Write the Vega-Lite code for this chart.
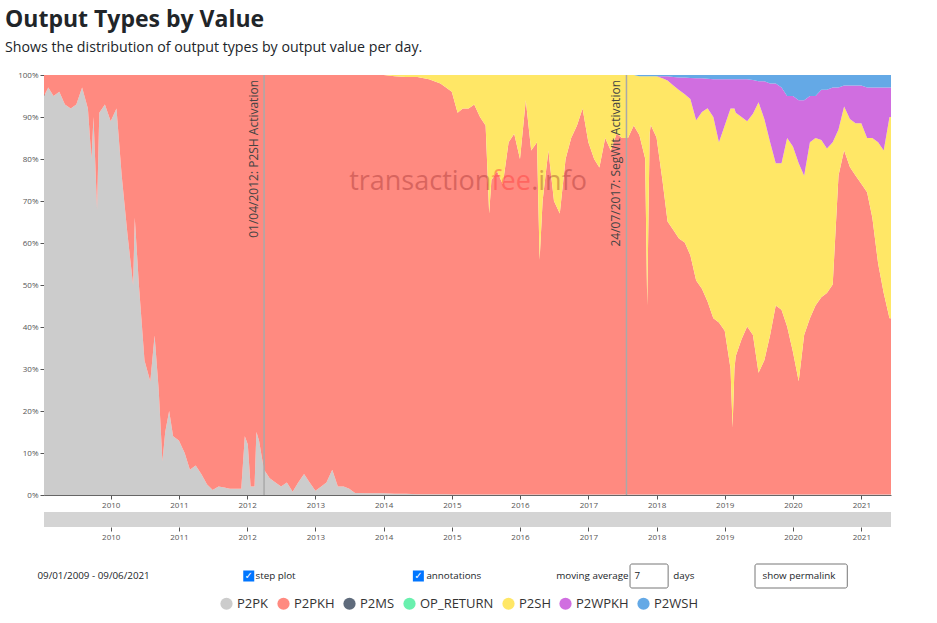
{
  "$schema": "https://vega.github.io/schema/vega-lite/v6.json",
  "background": "white",
  "padding": {"left": 5, "top": 8, "right": 5, "bottom": 4},
  "title": {
    "text": "Output Types by Value",
    "subtitle": "Shows the distribution of output types by output value per day.",
    "anchor": "start",
    "font": "Open Sans",
    "fontSize": 23,
    "fontWeight": "bold",
    "color": "#212529",
    "subtitleFont": "Open Sans",
    "subtitleFontSize": 14.2,
    "subtitleColor": "#212529",
    "subtitlePadding": 9,
    "offset": 16
  },
  "config": {
    "view": {"stroke": null},
    "font": "Open Sans",
    "axis": {
      "labelFont": "Open Sans",
      "labelFontSize": 8,
      "labelColor": "#555",
      "tickColor": "#555",
      "domainColor": "#666",
      "tickSize": 4,
      "labelPadding": 2,
      "grid": false,
      "title": null
    },
    "legend": {
      "orient": "none",
      "legendX": 176,
      "legendY": 522,
      "direction": "horizontal",
      "title": null,
      "symbolType": "circle",
      "symbolSize": 150,
      "symbolStrokeWidth": 0,
      "symbolOpacity": 1,
      "labelFont": "Open Sans",
      "labelFontSize": 13,
      "labelColor": "#333",
      "columnPadding": 8,
      "labelOffset": 4
    }
  },
  "datasets": {
    "types": [
      {"type": "P2PK", "rank": 1},
      {"type": "P2PKH", "rank": 2},
      {"type": "P2MS", "rank": 3},
      {"type": "OP_RETURN", "rank": 4},
      {"type": "P2SH", "rank": 5},
      {"type": "P2WPKH", "rank": 6},
      {"type": "P2WSH", "rank": 7}
    ],
    "notes": [
      {"d": "2012-04-01", "label": "01/04/2012: P2SH Activation"},
      {"d": "2017-07-24", "label": "24/07/2017: SegWit Activation"}
    ],
    "series": [
      {"d": "2009-01-09", "P2PK": 95, "P2PKH": 5, "P2SH": 0, "P2WPKH": 0, "P2WSH": 0},
      {"d": "2009-02-01", "P2PK": 97, "P2PKH": 3, "P2SH": 0, "P2WPKH": 0, "P2WSH": 0},
      {"d": "2009-03-01", "P2PK": 95, "P2PKH": 5, "P2SH": 0, "P2WPKH": 0, "P2WSH": 0},
      {"d": "2009-04-01", "P2PK": 96, "P2PKH": 4, "P2SH": 0, "P2WPKH": 0, "P2WSH": 0},
      {"d": "2009-05-01", "P2PK": 93, "P2PKH": 7, "P2SH": 0, "P2WPKH": 0, "P2WSH": 0},
      {"d": "2009-06-01", "P2PK": 92, "P2PKH": 8, "P2SH": 0, "P2WPKH": 0, "P2WSH": 0},
      {"d": "2009-07-01", "P2PK": 93, "P2PKH": 7, "P2SH": 0, "P2WPKH": 0, "P2WSH": 0},
      {"d": "2009-08-01", "P2PK": 97, "P2PKH": 3, "P2SH": 0, "P2WPKH": 0, "P2WSH": 0},
      {"d": "2009-09-01", "P2PK": 92, "P2PKH": 8, "P2SH": 0, "P2WPKH": 0, "P2WSH": 0},
      {"d": "2009-09-20", "P2PK": 80, "P2PKH": 20, "P2SH": 0, "P2WPKH": 0, "P2WSH": 0},
      {"d": "2009-10-01", "P2PK": 90, "P2PKH": 10, "P2SH": 0, "P2WPKH": 0, "P2WSH": 0},
      {"d": "2009-10-20", "P2PK": 68, "P2PKH": 32, "P2SH": 0, "P2WPKH": 0, "P2WSH": 0},
      {"d": "2009-11-01", "P2PK": 91, "P2PKH": 9, "P2SH": 0, "P2WPKH": 0, "P2WSH": 0},
      {"d": "2009-12-01", "P2PK": 93, "P2PKH": 7, "P2SH": 0, "P2WPKH": 0, "P2WSH": 0},
      {"d": "2010-01-01", "P2PK": 89, "P2PKH": 11, "P2SH": 0, "P2WPKH": 0, "P2WSH": 0},
      {"d": "2010-02-01", "P2PK": 92, "P2PKH": 8, "P2SH": 0, "P2WPKH": 0, "P2WSH": 0},
      {"d": "2010-03-01", "P2PK": 76, "P2PKH": 24, "P2SH": 0, "P2WPKH": 0, "P2WSH": 0},
      {"d": "2010-04-01", "P2PK": 62, "P2PKH": 38, "P2SH": 0, "P2WPKH": 0, "P2WSH": 0},
      {"d": "2010-05-01", "P2PK": 50, "P2PKH": 50, "P2SH": 0, "P2WPKH": 0, "P2WSH": 0},
      {"d": "2010-05-10", "P2PK": 66, "P2PKH": 34, "P2SH": 0, "P2WPKH": 0, "P2WSH": 0},
      {"d": "2010-06-01", "P2PK": 50, "P2PKH": 50, "P2SH": 0, "P2WPKH": 0, "P2WSH": 0},
      {"d": "2010-07-01", "P2PK": 32, "P2PKH": 68, "P2SH": 0, "P2WPKH": 0, "P2WSH": 0},
      {"d": "2010-08-01", "P2PK": 27, "P2PKH": 73, "P2SH": 0, "P2WPKH": 0, "P2WSH": 0},
      {"d": "2010-08-24", "P2PK": 38, "P2PKH": 62, "P2SH": 0, "P2WPKH": 0, "P2WSH": 0},
      {"d": "2010-09-15", "P2PK": 25, "P2PKH": 75, "P2SH": 0, "P2WPKH": 0, "P2WSH": 0},
      {"d": "2010-10-05", "P2PK": 8, "P2PKH": 92, "P2SH": 0, "P2WPKH": 0, "P2WSH": 0},
      {"d": "2010-10-20", "P2PK": 15, "P2PKH": 85, "P2SH": 0, "P2WPKH": 0, "P2WSH": 0},
      {"d": "2010-11-10", "P2PK": 20, "P2PKH": 80, "P2SH": 0, "P2WPKH": 0, "P2WSH": 0},
      {"d": "2010-12-01", "P2PK": 14, "P2PKH": 86, "P2SH": 0, "P2WPKH": 0, "P2WSH": 0},
      {"d": "2011-01-01", "P2PK": 13, "P2PKH": 87, "P2SH": 0, "P2WPKH": 0, "P2WSH": 0},
      {"d": "2011-02-01", "P2PK": 10, "P2PKH": 90, "P2SH": 0, "P2WPKH": 0, "P2WSH": 0},
      {"d": "2011-03-01", "P2PK": 6, "P2PKH": 94, "P2SH": 0, "P2WPKH": 0, "P2WSH": 0},
      {"d": "2011-04-01", "P2PK": 7, "P2PKH": 93, "P2SH": 0, "P2WPKH": 0, "P2WSH": 0},
      {"d": "2011-05-01", "P2PK": 5, "P2PKH": 95, "P2SH": 0, "P2WPKH": 0, "P2WSH": 0},
      {"d": "2011-06-01", "P2PK": 2.5, "P2PKH": 97.5, "P2SH": 0, "P2WPKH": 0, "P2WSH": 0},
      {"d": "2011-07-01", "P2PK": 1.2, "P2PKH": 98.8, "P2SH": 0, "P2WPKH": 0, "P2WSH": 0},
      {"d": "2011-08-01", "P2PK": 2, "P2PKH": 98, "P2SH": 0, "P2WPKH": 0, "P2WSH": 0},
      {"d": "2011-09-01", "P2PK": 1.8, "P2PKH": 98.2, "P2SH": 0, "P2WPKH": 0, "P2WSH": 0},
      {"d": "2011-10-01", "P2PK": 1.5, "P2PKH": 98.5, "P2SH": 0, "P2WPKH": 0, "P2WSH": 0},
      {"d": "2011-11-01", "P2PK": 1.5, "P2PKH": 98.5, "P2SH": 0, "P2WPKH": 0, "P2WSH": 0},
      {"d": "2011-12-01", "P2PK": 1.5, "P2PKH": 98.5, "P2SH": 0, "P2WPKH": 0, "P2WSH": 0},
      {"d": "2011-12-20", "P2PK": 14, "P2PKH": 86, "P2SH": 0, "P2WPKH": 0, "P2WSH": 0},
      {"d": "2012-01-05", "P2PK": 12, "P2PKH": 88, "P2SH": 0, "P2WPKH": 0, "P2WSH": 0},
      {"d": "2012-01-20", "P2PK": 2, "P2PKH": 98, "P2SH": 0, "P2WPKH": 0, "P2WSH": 0},
      {"d": "2012-02-10", "P2PK": 2, "P2PKH": 98, "P2SH": 0, "P2WPKH": 0, "P2WSH": 0},
      {"d": "2012-02-20", "P2PK": 15, "P2PKH": 85, "P2SH": 0, "P2WPKH": 0, "P2WSH": 0},
      {"d": "2012-03-05", "P2PK": 13, "P2PKH": 87, "P2SH": 0, "P2WPKH": 0, "P2WSH": 0},
      {"d": "2012-03-20", "P2PK": 9, "P2PKH": 91, "P2SH": 0, "P2WPKH": 0, "P2WSH": 0},
      {"d": "2012-04-01", "P2PK": 6, "P2PKH": 94, "P2SH": 0, "P2WPKH": 0, "P2WSH": 0},
      {"d": "2012-05-01", "P2PK": 4, "P2PKH": 96, "P2SH": 0, "P2WPKH": 0, "P2WSH": 0},
      {"d": "2012-06-01", "P2PK": 3, "P2PKH": 97, "P2SH": 0, "P2WPKH": 0, "P2WSH": 0},
      {"d": "2012-07-01", "P2PK": 2, "P2PKH": 98, "P2SH": 0, "P2WPKH": 0, "P2WSH": 0},
      {"d": "2012-08-01", "P2PK": 3, "P2PKH": 97, "P2SH": 0, "P2WPKH": 0, "P2WSH": 0},
      {"d": "2012-09-01", "P2PK": 0.8, "P2PKH": 99.2, "P2SH": 0, "P2WPKH": 0, "P2WSH": 0},
      {"d": "2012-10-01", "P2PK": 3, "P2PKH": 97, "P2SH": 0, "P2WPKH": 0, "P2WSH": 0},
      {"d": "2012-11-01", "P2PK": 5, "P2PKH": 95, "P2SH": 0, "P2WPKH": 0, "P2WSH": 0},
      {"d": "2012-12-01", "P2PK": 3, "P2PKH": 97, "P2SH": 0, "P2WPKH": 0, "P2WSH": 0},
      {"d": "2013-01-01", "P2PK": 1, "P2PKH": 99, "P2SH": 0, "P2WPKH": 0, "P2WSH": 0},
      {"d": "2013-02-01", "P2PK": 2, "P2PKH": 98, "P2SH": 0, "P2WPKH": 0, "P2WSH": 0},
      {"d": "2013-03-01", "P2PK": 3, "P2PKH": 97, "P2SH": 0, "P2WPKH": 0, "P2WSH": 0},
      {"d": "2013-04-01", "P2PK": 6, "P2PKH": 94, "P2SH": 0, "P2WPKH": 0, "P2WSH": 0},
      {"d": "2013-05-01", "P2PK": 2, "P2PKH": 98, "P2SH": 0, "P2WPKH": 0, "P2WSH": 0},
      {"d": "2013-06-01", "P2PK": 2, "P2PKH": 98, "P2SH": 0, "P2WPKH": 0, "P2WSH": 0},
      {"d": "2013-07-01", "P2PK": 1.5, "P2PKH": 98.5, "P2SH": 0, "P2WPKH": 0, "P2WSH": 0},
      {"d": "2013-08-01", "P2PK": 0.5, "P2PKH": 99.5, "P2SH": 0, "P2WPKH": 0, "P2WSH": 0},
      {"d": "2013-10-01", "P2PK": 0.4, "P2PKH": 99.6, "P2SH": 0, "P2WPKH": 0, "P2WSH": 0},
      {"d": "2014-01-01", "P2PK": 0.4, "P2PKH": 99.6, "P2SH": 0, "P2WPKH": 0, "P2WSH": 0},
      {"d": "2014-03-01", "P2PK": 0.3, "P2PKH": 99.4, "P2SH": 0.3, "P2WPKH": 0, "P2WSH": 0},
      {"d": "2014-05-01", "P2PK": 0.3, "P2PKH": 99.2, "P2SH": 0.5, "P2WPKH": 0, "P2WSH": 0},
      {"d": "2014-07-01", "P2PK": 0.2, "P2PKH": 99.3, "P2SH": 0.5, "P2WPKH": 0, "P2WSH": 0},
      {"d": "2014-09-01", "P2PK": 0.2, "P2PKH": 98.8, "P2SH": 1, "P2WPKH": 0, "P2WSH": 0},
      {"d": "2014-11-01", "P2PK": 0.2, "P2PKH": 97.8, "P2SH": 2, "P2WPKH": 0, "P2WSH": 0},
      {"d": "2014-12-01", "P2PK": 0.2, "P2PKH": 96.8, "P2SH": 3, "P2WPKH": 0, "P2WSH": 0},
      {"d": "2015-01-01", "P2PK": 0.1, "P2PKH": 95.9, "P2SH": 4, "P2WPKH": 0, "P2WSH": 0},
      {"d": "2015-02-01", "P2PK": 0.1, "P2PKH": 90.9, "P2SH": 9, "P2WPKH": 0, "P2WSH": 0},
      {"d": "2015-03-01", "P2PK": 0.1, "P2PKH": 91.9, "P2SH": 8, "P2WPKH": 0, "P2WSH": 0},
      {"d": "2015-04-01", "P2PK": 0.1, "P2PKH": 91.9, "P2SH": 8, "P2WPKH": 0, "P2WSH": 0},
      {"d": "2015-05-01", "P2PK": 0.1, "P2PKH": 92.9, "P2SH": 7, "P2WPKH": 0, "P2WSH": 0},
      {"d": "2015-06-01", "P2PK": 0.1, "P2PKH": 89.9, "P2SH": 10, "P2WPKH": 0, "P2WSH": 0},
      {"d": "2015-07-01", "P2PK": 0.1, "P2PKH": 87.9, "P2SH": 12, "P2WPKH": 0, "P2WSH": 0},
      {"d": "2015-07-20", "P2PK": 0.1, "P2PKH": 66.9, "P2SH": 33, "P2WPKH": 0, "P2WSH": 0},
      {"d": "2015-08-01", "P2PK": 0.1, "P2PKH": 74.9, "P2SH": 25, "P2WPKH": 0, "P2WSH": 0},
      {"d": "2015-09-01", "P2PK": 0.1, "P2PKH": 76.9, "P2SH": 23, "P2WPKH": 0, "P2WSH": 0},
      {"d": "2015-10-01", "P2PK": 0.1, "P2PKH": 73.9, "P2SH": 26, "P2WPKH": 0, "P2WSH": 0},
      {"d": "2015-11-01", "P2PK": 0.1, "P2PKH": 83.9, "P2SH": 16, "P2WPKH": 0, "P2WSH": 0},
      {"d": "2015-12-01", "P2PK": 0.1, "P2PKH": 85.9, "P2SH": 14, "P2WPKH": 0, "P2WSH": 0},
      {"d": "2016-01-01", "P2PK": 0.1, "P2PKH": 79.9, "P2SH": 20, "P2WPKH": 0, "P2WSH": 0},
      {"d": "2016-02-01", "P2PK": 0.1, "P2PKH": 93.9, "P2SH": 6, "P2WPKH": 0, "P2WSH": 0},
      {"d": "2016-03-01", "P2PK": 0.1, "P2PKH": 81.9, "P2SH": 18, "P2WPKH": 0, "P2WSH": 0},
      {"d": "2016-04-01", "P2PK": 0.1, "P2PKH": 83.9, "P2SH": 16, "P2WPKH": 0, "P2WSH": 0},
      {"d": "2016-04-15", "P2PK": 0.1, "P2PKH": 55.9, "P2SH": 44, "P2WPKH": 0, "P2WSH": 0},
      {"d": "2016-05-01", "P2PK": 0.1, "P2PKH": 69.9, "P2SH": 30, "P2WPKH": 0, "P2WSH": 0},
      {"d": "2016-06-01", "P2PK": 0.1, "P2PKH": 81.9, "P2SH": 18, "P2WPKH": 0, "P2WSH": 0},
      {"d": "2016-07-01", "P2PK": 0.1, "P2PKH": 69.9, "P2SH": 30, "P2WPKH": 0, "P2WSH": 0},
      {"d": "2016-08-01", "P2PK": 0.1, "P2PKH": 66.9, "P2SH": 33, "P2WPKH": 0, "P2WSH": 0},
      {"d": "2016-09-01", "P2PK": 0.1, "P2PKH": 79.9, "P2SH": 20, "P2WPKH": 0, "P2WSH": 0},
      {"d": "2016-10-01", "P2PK": 0.1, "P2PKH": 84.9, "P2SH": 15, "P2WPKH": 0, "P2WSH": 0},
      {"d": "2016-11-01", "P2PK": 0.1, "P2PKH": 87.9, "P2SH": 12, "P2WPKH": 0, "P2WSH": 0},
      {"d": "2016-12-01", "P2PK": 0.1, "P2PKH": 91.9, "P2SH": 8, "P2WPKH": 0, "P2WSH": 0},
      {"d": "2017-01-01", "P2PK": 0.1, "P2PKH": 83.9, "P2SH": 16, "P2WPKH": 0, "P2WSH": 0},
      {"d": "2017-02-01", "P2PK": 0.1, "P2PKH": 79.9, "P2SH": 20, "P2WPKH": 0, "P2WSH": 0},
      {"d": "2017-03-01", "P2PK": 0.1, "P2PKH": 77.9, "P2SH": 22, "P2WPKH": 0, "P2WSH": 0},
      {"d": "2017-04-01", "P2PK": 0.1, "P2PKH": 84.9, "P2SH": 15, "P2WPKH": 0, "P2WSH": 0},
      {"d": "2017-05-01", "P2PK": 0.1, "P2PKH": 81.9, "P2SH": 18, "P2WPKH": 0, "P2WSH": 0},
      {"d": "2017-06-01", "P2PK": 0.1, "P2PKH": 85.9, "P2SH": 14, "P2WPKH": 0, "P2WSH": 0},
      {"d": "2017-07-01", "P2PK": 0.1, "P2PKH": 84.9, "P2SH": 15, "P2WPKH": 0, "P2WSH": 0},
      {"d": "2017-08-01", "P2PK": 0.1, "P2PKH": 84.9, "P2SH": 15, "P2WPKH": 0, "P2WSH": 0},
      {"d": "2017-09-01", "P2PK": 0.1, "P2PKH": 87.9, "P2SH": 12, "P2WPKH": 0, "P2WSH": 0},
      {"d": "2017-10-01", "P2PK": 0.1, "P2PKH": 85.6, "P2SH": 14, "P2WPKH": 0, "P2WSH": 0.3},
      {"d": "2017-11-01", "P2PK": 0.1, "P2PKH": 80, "P2SH": 19.6, "P2WPKH": 0, "P2WSH": 0.3},
      {"d": "2017-11-12", "P2PK": 0.1, "P2PKH": 45, "P2SH": 54.6, "P2WPKH": 0, "P2WSH": 0.3},
      {"d": "2017-11-25", "P2PK": 0.1, "P2PKH": 86, "P2SH": 13.6, "P2WPKH": 0, "P2WSH": 0.3},
      {"d": "2017-12-01", "P2PK": 0.1, "P2PKH": 88, "P2SH": 11.6, "P2WPKH": 0, "P2WSH": 0.3},
      {"d": "2018-01-01", "P2PK": 0.1, "P2PKH": 85, "P2SH": 14.6, "P2WPKH": 0, "P2WSH": 0.3},
      {"d": "2018-02-01", "P2PK": 0.1, "P2PKH": 75, "P2SH": 24.1, "P2WPKH": 0.5, "P2WSH": 0.3},
      {"d": "2018-03-01", "P2PK": 0.1, "P2PKH": 65, "P2SH": 33.6, "P2WPKH": 1, "P2WSH": 0.3},
      {"d": "2018-04-01", "P2PK": 0.1, "P2PKH": 63, "P2SH": 34.4, "P2WPKH": 2, "P2WSH": 0.5},
      {"d": "2018-05-01", "P2PK": 0.1, "P2PKH": 61, "P2SH": 35.3, "P2WPKH": 3, "P2WSH": 0.6},
      {"d": "2018-06-01", "P2PK": 0.1, "P2PKH": 60, "P2SH": 35.3, "P2WPKH": 4, "P2WSH": 0.6},
      {"d": "2018-07-01", "P2PK": 0.1, "P2PKH": 57, "P2SH": 37.2, "P2WPKH": 5, "P2WSH": 0.7},
      {"d": "2018-08-01", "P2PK": 0.1, "P2PKH": 51, "P2SH": 38.1, "P2WPKH": 10, "P2WSH": 0.8},
      {"d": "2018-09-01", "P2PK": 0.1, "P2PKH": 49, "P2SH": 42.1, "P2WPKH": 8, "P2WSH": 0.8},
      {"d": "2018-10-01", "P2PK": 0.1, "P2PKH": 46, "P2SH": 46, "P2WPKH": 7, "P2WSH": 0.9},
      {"d": "2018-11-01", "P2PK": 0.1, "P2PKH": 42, "P2SH": 47.9, "P2WPKH": 9, "P2WSH": 1},
      {"d": "2018-12-01", "P2PK": 0.1, "P2PKH": 41, "P2SH": 42.9, "P2WPKH": 15, "P2WSH": 1},
      {"d": "2019-01-01", "P2PK": 0.1, "P2PKH": 39, "P2SH": 48.9, "P2WPKH": 11, "P2WSH": 1},
      {"d": "2019-02-01", "P2PK": 0.1, "P2PKH": 30, "P2SH": 61.9, "P2WPKH": 7, "P2WSH": 1},
      {"d": "2019-02-12", "P2PK": 0.1, "P2PKH": 16, "P2SH": 75.9, "P2WPKH": 7, "P2WSH": 1},
      {"d": "2019-02-22", "P2PK": 0.1, "P2PKH": 30, "P2SH": 61.9, "P2WPKH": 7, "P2WSH": 1},
      {"d": "2019-03-01", "P2PK": 0.1, "P2PKH": 33, "P2SH": 57.9, "P2WPKH": 8, "P2WSH": 1},
      {"d": "2019-04-01", "P2PK": 0.1, "P2PKH": 37, "P2SH": 52.9, "P2WPKH": 9, "P2WSH": 1},
      {"d": "2019-05-01", "P2PK": 0.1, "P2PKH": 40, "P2SH": 48.9, "P2WPKH": 10, "P2WSH": 1},
      {"d": "2019-06-01", "P2PK": 0.1, "P2PKH": 38, "P2SH": 52.7, "P2WPKH": 8, "P2WSH": 1.2},
      {"d": "2019-07-01", "P2PK": 0.1, "P2PKH": 29, "P2SH": 64.4, "P2WPKH": 5, "P2WSH": 1.5},
      {"d": "2019-08-01", "P2PK": 0.1, "P2PKH": 32, "P2SH": 57.4, "P2WPKH": 9, "P2WSH": 1.5},
      {"d": "2019-09-01", "P2PK": 0.1, "P2PKH": 38, "P2SH": 45.9, "P2WPKH": 14, "P2WSH": 2},
      {"d": "2019-10-01", "P2PK": 0.1, "P2PKH": 45, "P2SH": 33.9, "P2WPKH": 19, "P2WSH": 2},
      {"d": "2019-11-01", "P2PK": 0.1, "P2PKH": 44, "P2SH": 34.9, "P2WPKH": 18, "P2WSH": 3},
      {"d": "2019-12-01", "P2PK": 0.1, "P2PKH": 40, "P2SH": 44.9, "P2WPKH": 10, "P2WSH": 5},
      {"d": "2020-01-01", "P2PK": 0.1, "P2PKH": 34, "P2SH": 48.9, "P2WPKH": 12, "P2WSH": 5},
      {"d": "2020-02-01", "P2PK": 0.1, "P2PKH": 27, "P2SH": 51.9, "P2WPKH": 15, "P2WSH": 6},
      {"d": "2020-03-01", "P2PK": 0.1, "P2PKH": 38, "P2SH": 37.9, "P2WPKH": 18, "P2WSH": 6},
      {"d": "2020-04-01", "P2PK": 0.1, "P2PKH": 42, "P2SH": 41.9, "P2WPKH": 11, "P2WSH": 5},
      {"d": "2020-05-01", "P2PK": 0.1, "P2PKH": 45, "P2SH": 39.9, "P2WPKH": 10, "P2WSH": 5},
      {"d": "2020-06-01", "P2PK": 0.1, "P2PKH": 47, "P2SH": 37.4, "P2WPKH": 12, "P2WSH": 3.5},
      {"d": "2020-07-01", "P2PK": 0.1, "P2PKH": 48, "P2SH": 34.4, "P2WPKH": 14, "P2WSH": 3.5},
      {"d": "2020-08-01", "P2PK": 0.1, "P2PKH": 50, "P2SH": 33.9, "P2WPKH": 13, "P2WSH": 3},
      {"d": "2020-09-01", "P2PK": 0.1, "P2PKH": 76, "P2SH": 10.9, "P2WPKH": 10, "P2WSH": 3},
      {"d": "2020-10-01", "P2PK": 0.1, "P2PKH": 82, "P2SH": 10.4, "P2WPKH": 5, "P2WSH": 2.5},
      {"d": "2020-11-01", "P2PK": 0.1, "P2PKH": 78, "P2SH": 11.4, "P2WPKH": 8, "P2WSH": 2.5},
      {"d": "2020-12-01", "P2PK": 0.1, "P2PKH": 76, "P2SH": 12.4, "P2WPKH": 9, "P2WSH": 2.5},
      {"d": "2021-01-01", "P2PK": 0.1, "P2PKH": 74, "P2SH": 14.4, "P2WPKH": 9, "P2WSH": 2.5},
      {"d": "2021-02-01", "P2PK": 0.1, "P2PKH": 72, "P2SH": 12.9, "P2WPKH": 12, "P2WSH": 3},
      {"d": "2021-03-01", "P2PK": 0.1, "P2PKH": 66, "P2SH": 18.9, "P2WPKH": 12, "P2WSH": 3},
      {"d": "2021-04-01", "P2PK": 0.1, "P2PKH": 55, "P2SH": 28.9, "P2WPKH": 13, "P2WSH": 3},
      {"d": "2021-05-01", "P2PK": 0.1, "P2PKH": 48, "P2SH": 33.9, "P2WPKH": 15, "P2WSH": 3},
      {"d": "2021-06-01", "P2PK": 0.1, "P2PKH": 42, "P2SH": 47.9, "P2WPKH": 7, "P2WSH": 3},
      {"d": "2021-06-09", "P2PK": 0.1, "P2PKH": 42, "P2SH": 47.9, "P2WPKH": 7, "P2WSH": 3}
    ],
    "controls": [
      {"d": "2008-12-05", "label": "09/01/2009 - 09/06/2021"},
      {"d": "2012-02-15", "label": "step plot"},
      {"d": "2014-08-18", "label": "annotations"},
      {"d": "2016-07-13", "label": "moving average"},
      {"d": "2017-09-05", "label": "7"},
      {"d": "2018-04-01", "label": "days"},
      {"d": "2019-07-22", "label": "show permalink"}
    ],
    "checks": [
      {"d": "2012-01-10"},
      {"d": "2014-07-06"}
    ],
    "boxes": [
      {"a": "2017-08-12", "b": "2018-03-04"},
      {"a": "2019-06-12", "b": "2020-10-18"}
    ]
  },
  "spacing": 22,
  "vconcat": [
    {
      "spacing": 3,
      "vconcat": [
        {
          "width": 847,
          "height": 420,
          "layer": [
            {
              "data": {"name": "series"},
              "transform": [
                {"fold": ["P2PK", "P2PKH", "P2SH", "P2WPKH", "P2WSH"], "as": ["type", "share"]},
                {"lookup": "type", "from": {"data": {"name": "types"}, "key": "type", "fields": ["rank"]}}
              ],
              "mark": {"type": "area", "interpolate": "linear"},
              "encoding": {
                "x": {
                  "field": "d",
                  "type": "temporal",
                  "scale": {"domain": [{"year": 2009, "month": 1, "date": 9}, {"year": 2021, "month": 6, "date": 9}]},
                  "axis": {"format": "%Y", "tickCount": {"interval": "year", "step": 1}, "labelFlush": false}
                },
                "y": {
                  "field": "share",
                  "type": "quantitative",
                  "stack": "normalize",
                  "scale": {"domain": [0, 1], "nice": false},
                  "axis": {"format": ".0%", "values": [0, 0.1, 0.2, 0.3, 0.4, 0.5, 0.6, 0.7, 0.8, 0.9, 1], "minExtent": 39, "maxExtent": 39}
                },
                "color": {
                  "field": "type",
                  "type": "nominal",
                  "scale": {
                    "domain": ["P2PK", "P2PKH", "P2MS", "OP_RETURN", "P2SH", "P2WPKH", "P2WSH"],
                    "range": ["#cccccc", "#ff8a80", "#5f6b7c", "#69f0ae", "#ffe766", "#d06ee0", "#64a9e6"]
                  }
                },
                "order": {"field": "rank", "type": "quantitative"}
              }
            },
            {
              "data": {"values": [{}]},
              "mark": {"type": "text", "text": "transaction", "align": "right", "baseline": "alphabetic", "font": "Open Sans", "fontSize": 27, "color": "#8b1a1a", "opacity": 0.33},
              "encoding": {"x": {"datum": {"year": 2015, "month": 8, "date": 1}}, "y": {"datum": 0.726}}
            },
            {
              "data": {"values": [{}]},
              "mark": {"type": "text", "text": "fee", "align": "left", "baseline": "alphabetic", "font": "Open Sans", "fontSize": 27, "color": "#ff3b3b", "opacity": 0.45},
              "encoding": {"x": {"datum": {"year": 2015, "month": 8, "date": 1}}, "y": {"datum": 0.726}}
            },
            {
              "data": {"values": [{}]},
              "mark": {"type": "text", "text": ".info", "align": "left", "baseline": "alphabetic", "font": "Open Sans", "fontSize": 27, "color": "#8b1a1a", "opacity": 0.33},
              "encoding": {"x": {"datum": {"year": 2016, "month": 3, "date": 1}}, "y": {"datum": 0.726}}
            },
            {
              "data": {"name": "notes"},
              "mark": {"type": "rule", "color": "#a9a9a9", "strokeWidth": 1.5},
              "encoding": {"x": {"field": "d", "type": "temporal"}}
            },
            {
              "data": {"name": "notes"},
              "mark": {"type": "text", "angle": 270, "align": "right", "baseline": "bottom", "dx": -5, "dy": -3, "font": "Open Sans", "fontSize": 12, "color": "#444"},
              "encoding": {"x": {"field": "d", "type": "temporal"}, "y": {"datum": 1}, "text": {"field": "label"}}
            }
          ]
        },
        {
          "width": 847,
          "height": 15,
          "data": {"values": [{"a": "2009-01-09", "b": "2021-06-09"}]},
          "mark": {"type": "rect", "color": "#d4d4d4"},
          "encoding": {
            "x": {
              "field": "a",
              "type": "temporal",
              "scale": {"domain": [{"year": 2009, "month": 1, "date": 9}, {"year": 2021, "month": 6, "date": 9}]},
              "axis": {"format": "%Y", "tickCount": {"interval": "year", "step": 1}, "domain": false, "labelFlush": false}
            },
            "x2": {"field": "b"}
          }
        }
      ]
    },
    {
      "width": 847,
      "height": 24,
      "layer": [
        {
          "data": {"name": "boxes"},
          "mark": {"type": "rect", "fill": "white", "stroke": "#767676", "strokeWidth": 1, "cornerRadius": 2},
          "encoding": {
            "x": {"field": "a", "type": "temporal", "scale": {"domain": [{"year": 2009, "month": 1, "date": 9}, {"year": 2021, "month": 6, "date": 9}]}, "axis": null},
            "x2": {"field": "b"}
          }
        },
        {
          "data": {"name": "checks"},
          "mark": {"type": "point", "shape": "square", "filled": true, "size": 121, "color": "#0075ff", "opacity": 1},
          "encoding": {"x": {"field": "d", "type": "temporal"}}
        },
        {
          "data": {"name": "checks"},
          "mark": {"type": "text", "text": "✓", "font": "DejaVu Sans", "fontSize": 10, "fontWeight": "bold", "color": "white"},
          "encoding": {"x": {"field": "d", "type": "temporal"}}
        },
        {
          "data": {"name": "controls"},
          "mark": {"type": "text", "align": "left", "font": "Open Sans", "fontSize": 9.8, "color": "#212529"},
          "encoding": {"x": {"field": "d", "type": "temporal"}, "text": {"field": "label"}}
        }
      ]
    }
  ]
}
